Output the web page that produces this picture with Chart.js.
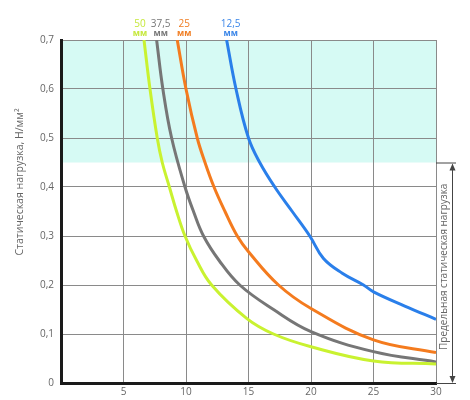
<!DOCTYPE html>
<html>
<head>
<meta charset="utf-8">
<script src="https://cdn.jsdelivr.net/npm/chart.js@4.4.1/dist/chart.umd.min.js"></script>
<style>
  html, body { margin: 0; padding: 0; background: #fff; }
  #wrap { width: 470px; height: 400px; position: relative; }
</style>
</head>
<body>
<div id="wrap"><canvas id="myChart"></canvas></div>
<script>
const ctx = document.getElementById("myChart");

// толщина материала (подписи серий)
const seriesNames = ["50", "37,5", "25", "12,5"];
const seriesUnit = "мм";

// точки кривых: x и нагрузка, Н/мм²
const x50 = [6.64, 7.12, 7.7, 8.1, 8.67, 9.25, 9.92, 10.85, 12.05, 14.85, 17, 20, 25, 30];
const y50 = [0.7, 0.6, 0.5, 0.45, 0.4, 0.35, 0.3, 0.25, 0.2, 0.132, 0.1, 0.074, 0.045, 0.039];

const x375 = [7.65, 8.15, 8.85, 9.92, 10.6, 11.4, 12.65, 14.3, 17, 20, 25, 30];
const y375 = [0.7, 0.6, 0.5, 0.4, 0.35, 0.3, 0.25, 0.2, 0.15, 0.105, 0.064, 0.043];

const x25 = [9.3, 10.0, 10.9, 11.52, 12.24, 13.12, 14.1, 15, 17.4, 20, 25, 30];
const y25 = [0.7, 0.6, 0.5, 0.45, 0.4, 0.35, 0.3, 0.268, 0.2, 0.152, 0.088, 0.062];

const x125 = [13.25, 14.0, 15.0, 15.9, 17.1, 18.5, 19.9, 21.0, 22.5, 24.2, 25, 27.5, 30];
const y125 = [0.7, 0.6, 0.5, 0.45, 0.4, 0.35, 0.3, 0.254, 0.224, 0.2, 0.186, 0.157, 0.13];

// зона предельной нагрузки и оси
const limitFrom = 0.45;
const limitTo = 0.7;
const xTicks = [0, 5, 10, 15, 20, 25, 30];
const yTicks = [0, 0.1, 0.2, 0.3, 0.4, 0.5, 0.6, 0.7];

const yTitle = "Статическая нагрузка, Н/мм²";
const limitTitle = "Предельная статическая нагрузка";

const colors = ["#c9f230", "#767676", "#f47b1e", "#2a7fea"];
const labelColors = ["#c6e83c", "#777777", "#f07d22", "#3b86e8"];
const labelShift = [-4, 4, 7, 4];

function toPoints(xs, ys) {
  const pts = [];
  for (let i = 0; i < xs.length; i++) {
    pts.push({ x: xs[i], y: ys[i] });
  }
  return pts;
}

const allX = [x50, x375, x25, x125];
const allY = [y50, y375, y25, y125];

const datasets = [];
for (let i = 0; i < seriesNames.length; i++) {
  datasets.push({
    label: seriesNames[i] + " " + seriesUnit,
    data: toPoints(allX[i], allY[i]),
    borderColor: colors[i],
    borderWidth: 3,
    pointRadius: 0,
    fill: false,
    tension: 0.4,
  });
}

const FONT = "'Open Sans', 'DejaVu Sans', sans-serif";

const bandPlugin = {
  id: "band",
  beforeDraw(chart) {
    const c = chart.ctx;
    const xs = chart.scales.x;
    const ys = chart.scales.y;
    const top = ys.getPixelForValue(limitTo);
    const bot = ys.getPixelForValue(limitFrom);
    c.save();
    c.fillStyle = "#d6faf4";
    c.fillRect(xs.left, top, xs.right - xs.left, bot - top);
    c.restore();
  },
};

const decorPlugin = {
  id: "decor",
  afterDraw(chart) {
    const c = chart.ctx;
    const xs = chart.scales.x;
    const ys = chart.scales.y;
    c.save();

    // подписи серий над графиком
    c.textAlign = "center";
    c.textBaseline = "alphabetic";
    for (let i = 0; i < seriesNames.length; i++) {
      const px = xs.getPixelForValue(allX[i][0]) + labelShift[i];
      c.fillStyle = labelColors[i];
      c.font = "10px " + FONT;
      c.fillText(seriesNames[i], px, 27);
      c.font = "bold 8.5px " + FONT;
      c.fillText(seriesUnit, px, 36);
    }

    // заголовок оси Y
    c.fillStyle = "#666";
    c.font = "10.5px " + FONT;
    c.translate(20, 182);
    c.rotate(-Math.PI / 2);
    c.textAlign = "center";
    c.textBaseline = "middle";
    c.fillText(yTitle, 0, 0);
    c.setTransform(chart.currentDevicePixelRatio, 0, 0, chart.currentDevicePixelRatio, 0, 0);

    // стрелка предельной нагрузки
    const top = ys.getPixelForValue(limitFrom);
    const bot = ys.getPixelForValue(0);
    const ax = xs.right + 16;
    c.strokeStyle = "#444";
    c.fillStyle = "#444";
    c.lineWidth = 1;
    c.beginPath();
    c.moveTo(xs.right, top + 0.5);
    c.lineTo(ax + 4, top + 0.5);
    c.moveTo(xs.right, bot + 0.5);
    c.lineTo(ax + 4, bot + 0.5);
    c.moveTo(ax + 0.5, top + 2);
    c.lineTo(ax + 0.5, bot - 2);
    c.stroke();
    c.beginPath();
    c.moveTo(ax + 0.5, top + 1);
    c.lineTo(ax - 2.5, top + 8);
    c.lineTo(ax + 3.5, top + 8);
    c.closePath();
    c.fill();
    c.beginPath();
    c.moveTo(ax + 0.5, bot);
    c.lineTo(ax - 2.5, bot - 7);
    c.lineTo(ax + 3.5, bot - 7);
    c.closePath();
    c.fill();

    c.fillStyle = "#666";
    c.font = "10px " + FONT;
    c.translate(xs.right + 8, (top + bot) / 2 - 6);
    c.rotate(-Math.PI / 2);
    c.textAlign = "center";
    c.textBaseline = "middle";
    c.fillText(limitTitle, 0, 0);
    c.restore();
  },
};

Chart.defaults.font.family = FONT;
Chart.defaults.font.size = 10;
Chart.defaults.color = "#666";

const chart = new Chart(ctx, {
  type: "line",
  data: { datasets: datasets },
  options: {
    responsive: true,
    maintainAspectRatio: false,
    animation: false,
    layout: { padding: { left: 0, right: 34, top: 40, bottom: 0 } },
    plugins: {
      legend: { display: false },
      tooltip: { enabled: false },
    },
    scales: {
      x: {
        type: "linear",
        min: 0,
        max: 30,
        afterBuildTicks: (scale) => {
          scale.ticks = xTicks.map((v) => ({ value: v }));
        },
        afterFit: (scale) => {
          scale.height = 17;
        },
        ticks: {
          padding: 3,
          color: "#666",
          callback: (v) => (v === 0 ? "" : String(v)),
        },
        grid: {
          color: "#8a8a8a",
          lineWidth: 1,
          drawTicks: false,
        },
        border: { color: "#1a1a1a", width: 3 },
      },
      y: {
        min: 0,
        max: 0.7,
        afterBuildTicks: (scale) => {
          scale.ticks = yTicks.map((v) => ({ value: v }));
        },
        afterFit: (scale) => {
          scale.width = 61;
        },
        ticks: {
          padding: 7,
          color: "#666",
          callback: (v) => String(Math.round(v * 10) / 10).replace(".", ","),
        },
        grid: {
          color: "#8a8a8a",
          lineWidth: 1,
          drawTicks: false,
        },
        border: { color: "#1a1a1a", width: 3 },
      },
    },
  },
  plugins: [bandPlugin, decorPlugin],
});
</script>
</body>
</html>
